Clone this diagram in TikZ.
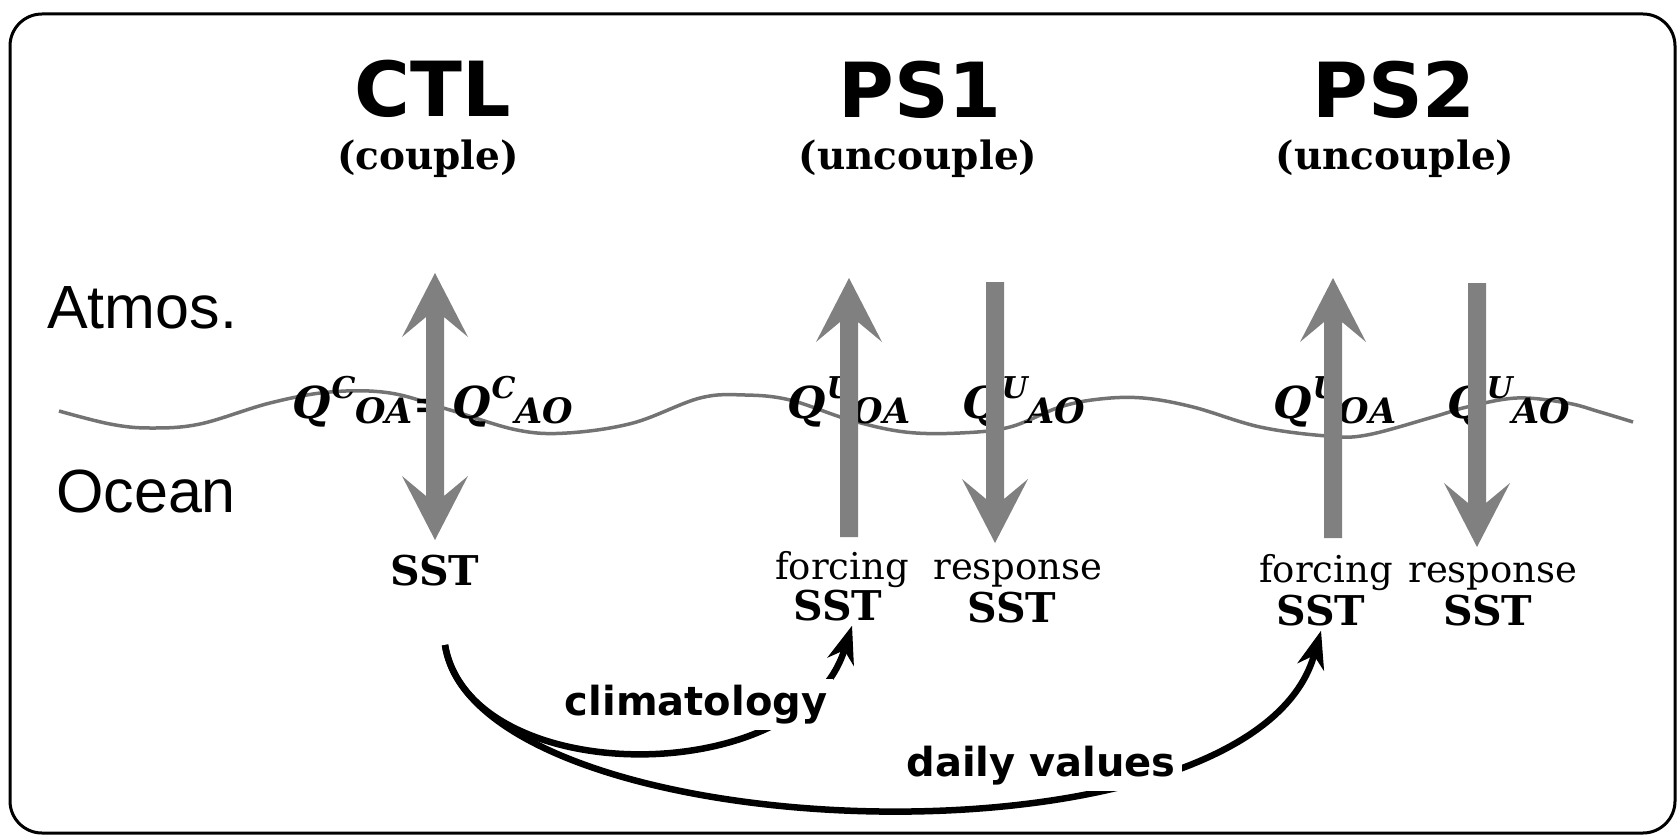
\documentclass[tikz,border=0pt]{standalone}
\usepackage{fontspec}
\usetikzlibrary{arrows.meta}
\newfontfamily\titlefont{DejaVu Sans}
\newfontfamily\serfont{DejaVu Serif}
\newfontfamily\labfont{Liberation Sans}
\definecolor{arrowgray}{gray}{0.5}
\definecolor{wavegray}{gray}{0.45}
\newcommand\setfs[1]{\fontsize{#1pt}{#1pt}\selectfont}
\newcommand\Qlab[2]{{\serfont\bfseries\itshape\setfs{44}Q\kern1pt\raisebox{20pt}{\setfs{30}#1}\raisebox{-5pt}{\setfs{35}#2}}}
\newcommand\garrowup[3]{\fill[arrowgray] ({#1-9},#3) -- ({#1-9},{#2+44}) -- ({#1-33},{#2+64}) -- (#1,#2) -- ({#1+33},{#2+64}) -- ({#1+9},{#2+44}) -- ({#1+9},#3) -- cycle;}
\newcommand\garrowdown[3]{\fill[arrowgray] ({#1-9},#2) -- ({#1-9},{#3-44}) -- ({#1-33},{#3-64}) -- (#1,#3) -- ({#1+33},{#3-64}) -- ({#1+9},{#3-44}) -- ({#1+9},#2) -- cycle;}
\newcommand\garrowboth[3]{\fill[arrowgray] (#1,#2) -- ({#1+33},{#2+64}) -- ({#1+9},{#2+44}) -- ({#1+9},{#3-44}) -- ({#1+33},{#3-64}) -- (#1,#3) -- ({#1-33},{#3-64}) -- ({#1-9},{#3-44}) -- ({#1-9},{#2+44}) -- ({#1-33},{#2+64}) -- cycle;}
\tikzset{
  outerframe/.style={draw=black, line width=3pt, rounded corners=32pt},
  title/.style={anchor=base, inner sep=1pt, font=\titlefont\bfseries\setfs{76}},
  subt/.style={anchor=base, inner sep=1pt, font=\serfont\bfseries\setfs{39}},
  region/.style={anchor=base west, inner sep=0pt, font=\labfont\setfs{61}},
  wave/.style={draw=wavegray, line width=3.5pt},
  qlab/.style={anchor=base west, inner sep=0pt},
  sst/.style={anchor=base, inner sep=1pt, font=\serfont\bfseries\setfs{41}},
  reg/.style={anchor=base, inner sep=1pt, font=\serfont\setfs{37}},
  lab/.style={anchor=base, fill=white, inner sep=6pt, font=\titlefont\bfseries\setfs{40}},
  flow/.style={draw=black, line width=6.5pt, -{Stealth[length=38pt,width=28pt,line width=1pt]}}
}
\begin{document}
\begin{tikzpicture}[x=1pt,y=-1pt]
\useasboundingbox (0,0) rectangle (1680,837);
\draw[outerframe] (10,14) rectangle (1675,833);

% titles
\node[title] (ctl) at (433,117) {CTL};
\node[title] (ps1) at (920,118) {PS1};
\node[title] (ps2) at (1394,118) {PS2};
\node[subt] (ctlsub) at (428,170) {(couple)};
\node[subt] (ps1sub) at (918,170) {(uncouple)};
\node[subt] (ps2sub) at (1395,170) {(uncouple)};
\node[region] (atm) at (47,328) {Atmos.};
\node[region] (ocn) at (56,512) {Ocean};

% sea surface
\draw[wave] plot[smooth,tension=0.6] coordinates {(59,411) (110,424) (150,428) (200,424) (270,403) (330,392) (390,393) (450,410) (517,430) (567,433) (633,423) (700,398) (745,395) (790,400) (850,420) (905,432) (960,433) (1010,427) (1060,407) (1100,399) (1143,398) (1193,407) (1260,427) (1327,436) (1367,435) (1433,417) (1467,407) (1517,398) (1567,403) (1600,412) (1633,422)};

% flux labels
\node[qlab] (qca) at (292,418) {\Qlab{C}{OA}{\serfont\bfseries\setfs{40}=}};
\node[qlab] (qcb) at (452,418) {\Qlab{C}{AO}};
\node[qlab] (q1oa) at (787,418) {\Qlab{U}{OA}};
\node[qlab] (q1ao) at (962,418) {\Qlab{U}{AO}};
\node[qlab] (q2oa) at (1273,418) {\Qlab{U}{OA}};
\node[qlab] (q2ao) at (1447,418) {\Qlab{U}{AO}};

% flux arrows
\garrowboth{435}{273}{540}
\garrowup{849}{278}{537}
\garrowdown{995}{282}{543}
\garrowup{1333}{278}{538}
\garrowdown{1477}{283}{547}

% SST labels
\node[sst] (sstc) at (435,585) {SST};
\node[reg] (forc1) at (842,579) {forcing};
\node[sst] (fsst1) at (838,620) {SST};
\node[reg] (resp1) at (1018,579) {response};
\node[sst] (rsst1) at (1012,622) {SST};
\node[reg] (forc2) at (1326,582) {forcing};
\node[sst] (fsst2) at (1321,625) {SST};
\node[reg] (resp2) at (1493,582) {response};
\node[sst] (rsst2) at (1488,625) {SST};

% forcing paths
\coordinate (src) at (445,645);
\draw[flow] (src) .. controls (470,790) and (800,790) .. ([xshift=14pt,yshift=-4pt]fsst1.south);
\draw[flow] (src) .. controls (475,850) and (1250,880) .. ([yshift=-4pt]fsst2.south);
\node[lab] (clim) at (696,715) {climatology};
\node[lab] (daily) at (1041,776) {daily values};
\end{tikzpicture}
\end{document}
